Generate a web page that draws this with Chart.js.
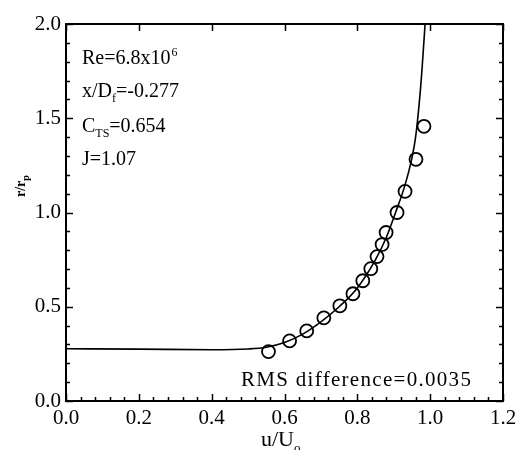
<!DOCTYPE html>
<html>
<head>
<meta charset="utf-8">
<script src="https://cdn.jsdelivr.net/npm/chart.js@4/dist/chart.umd.min.js"></script>
<style>
  html, body { margin: 0; padding: 0; background: #fff; }
  #wrap { width: 522px; height: 450px; }
</style>
</head>
<body>
<div id="wrap"><canvas id="c" width="522" height="450"></canvas></div>
<script>
// Measured radius ratio versus velocity ratio
const measuredU = [0.556, 0.614, 0.661, 0.708, 0.752, 0.788, 0.815, 0.837, 0.854, 0.868, 0.879, 0.909, 0.931, 0.961, 0.983];
const measuredR = [0.262, 0.319, 0.372, 0.441, 0.505, 0.569, 0.638, 0.702, 0.766, 0.830, 0.894, 1.000, 1.112, 1.282, 1.457];

// Model curve
const modelU = [0.0, 0.2, 0.4, 0.5, 0.55, 0.6, 0.65, 0.7, 0.75, 0.8, 0.85, 0.88, 0.905, 0.93, 0.95, 0.96, 0.97, 0.978, 0.986];
const modelR = [0.277, 0.275, 0.272, 0.276, 0.285, 0.31, 0.355, 0.42, 0.50, 0.60, 0.75, 0.87, 1.0, 1.14, 1.29, 1.40, 1.58, 1.77, 2.0];

// Axis ranges and ticks
const xTicks = [0.0, 0.2, 0.4, 0.6, 0.8, 1.0, 1.2];
const yTicks = [0.0, 0.5, 1.0, 1.5, 2.0];
const xMinorStep = 0.04;
const yMinorStep = 0.1;

// Case parameters shown in the upper-left corner
const caseLines = [
  [{t: 'Re=6.8x10'}, {t: '6', sup: true}],
  [{t: 'x/D'}, {t: 'f', sub: true}, {t: '=-0.277'}],
  [{t: 'C'}, {t: 'TS', sub: true}, {t: '=0.654'}],
  [{t: 'J=1.07'}]
];
const rmsText = 'RMS difference=0.0035';

const SERIF = '"Liberation Serif", "Times New Roman", serif';

function drawRich(ctx, parts, x, y, size) {
  let cx = x;
  for (const p of parts) {
    if (p.sup) {
      ctx.font = `${Math.round(size * 0.6)}px ${SERIF}`;
      ctx.fillText(p.t, cx + 1, y - size * 0.42);
    } else if (p.sub) {
      ctx.font = `${Math.round(size * 0.6)}px ${SERIF}`;
      ctx.fillText(p.t, cx, y + size * 0.25);
    } else {
      ctx.font = `${size}px ${SERIF}`;
      ctx.fillText(p.t, cx, y);
    }
    cx += ctx.measureText(p.t).width;
  }
}

const frame = {
  id: 'frame',
  afterDraw(chart) {
    const {ctx, chartArea: a, scales: {x, y}} = chart;
    ctx.save();
    ctx.strokeStyle = '#000';
    ctx.fillStyle = '#000';

    // box
    ctx.lineWidth = 2;
    ctx.strokeRect(a.left, a.top, a.right - a.left, a.bottom - a.top);

    // inward ticks
    ctx.lineWidth = 1.5;
    ctx.beginPath();
    for (let v = 0; v <= 1.2001; v += xMinorStep) {
      const px = Math.round(x.getPixelForValue(v)) + 0.5;
      const major = xTicks.some(t => Math.abs(t - v) < 1e-6);
      const len = major ? 7 : 4;
      ctx.moveTo(px, a.bottom); ctx.lineTo(px, a.bottom - len);
      if (major) { ctx.moveTo(px, a.top); ctx.lineTo(px, a.top + len); }
    }
    for (let v = 0; v <= 2.0001; v += yMinorStep) {
      const py = Math.round(y.getPixelForValue(v)) + 0.5;
      const major = yTicks.some(t => Math.abs(t - v) < 1e-6);
      const len = major ? 7 : 4;
      ctx.moveTo(a.left, py); ctx.lineTo(a.left + len, py);
      ctx.moveTo(a.right, py); ctx.lineTo(a.right - len, py);
    }
    ctx.stroke();

    // case parameters
    ctx.textBaseline = 'alphabetic';
    ctx.textAlign = 'left';
    const lx = a.left + 16;
    const ly = [64, 97, 132, 165];
    caseLines.forEach((parts, i) => drawRich(ctx, parts, lx, ly[i], 20));

    // RMS label
    ctx.font = `21px ${SERIF}`;
    ctx.letterSpacing = '1.3px';
    ctx.fillText(rmsText, 241, 386);
    ctx.letterSpacing = '0px';

    // axis titles
    drawRich(ctx, [{t: 'u/U'}, {t: 'o', sub: true}], 261, 446, 22);

    ctx.translate(25, 197);
    ctx.rotate(-Math.PI / 2);
    ctx.font = `bold 14px ${SERIF}`;
    ctx.fillText('r/r', 0, 0);
    const w = ctx.measureText('r/r').width;
    ctx.font = `bold 10px ${SERIF}`;
    ctx.fillText('p', w, 4);
    ctx.restore();
  }
};

const modelPoints = modelU.map((u, i) => ({x: u, y: modelR[i]}));
const measuredPoints = measuredU.map((u, i) => ({x: u, y: measuredR[i]}));

new Chart(document.getElementById('c'), {
  type: 'scatter',
  data: {
    datasets: [
      {
        label: 'model',
        type: 'line',
        data: modelPoints,
        borderColor: '#000',
        borderWidth: 1.6,
        pointRadius: 0,
        fill: false,
        cubicInterpolationMode: 'monotone',
        order: 2
      },
      {
        label: 'measured',
        data: measuredPoints,
        pointStyle: 'circle',
        pointRadius: 6.5,
        pointBorderWidth: 1.8,
        pointBorderColor: '#000',
        pointBackgroundColor: 'rgba(255,255,255,0)',
        order: 1
      }
    ]
  },
  options: {
    responsive: false,
    animation: false,
    events: [],
    layout: { padding: { top: 24, right: 19, left: 0, bottom: 0 } },
    plugins: { legend: { display: false }, tooltip: { enabled: false } },
    scales: {
      x: {
        type: 'linear',
        min: 0, max: 1.2,
        afterBuildTicks(s) { s.ticks = xTicks.map(v => ({value: v})); },
        afterFit(s) { s.height = 49; },
        grid: { display: false, drawTicks: false },
        border: { display: false },
        ticks: {
          color: '#000',
          padding: 5,
          font: { family: SERIF, size: 21 },
          maxRotation: 0,
          callback: v => v.toFixed(1)
        }
      },
      y: {
        type: 'linear',
        min: 0, max: 2,
        afterBuildTicks(s) { s.ticks = yTicks.map(v => ({value: v})); },
        afterFit(s) { s.width = 66; },
        grid: { display: false, drawTicks: false },
        border: { display: false },
        ticks: {
          color: '#000',
          padding: 5,
          font: { family: SERIF, size: 21 },
          callback: v => v.toFixed(1)
        }
      }
    }
  },
  plugins: [frame]
});
</script>
</body>
</html>
